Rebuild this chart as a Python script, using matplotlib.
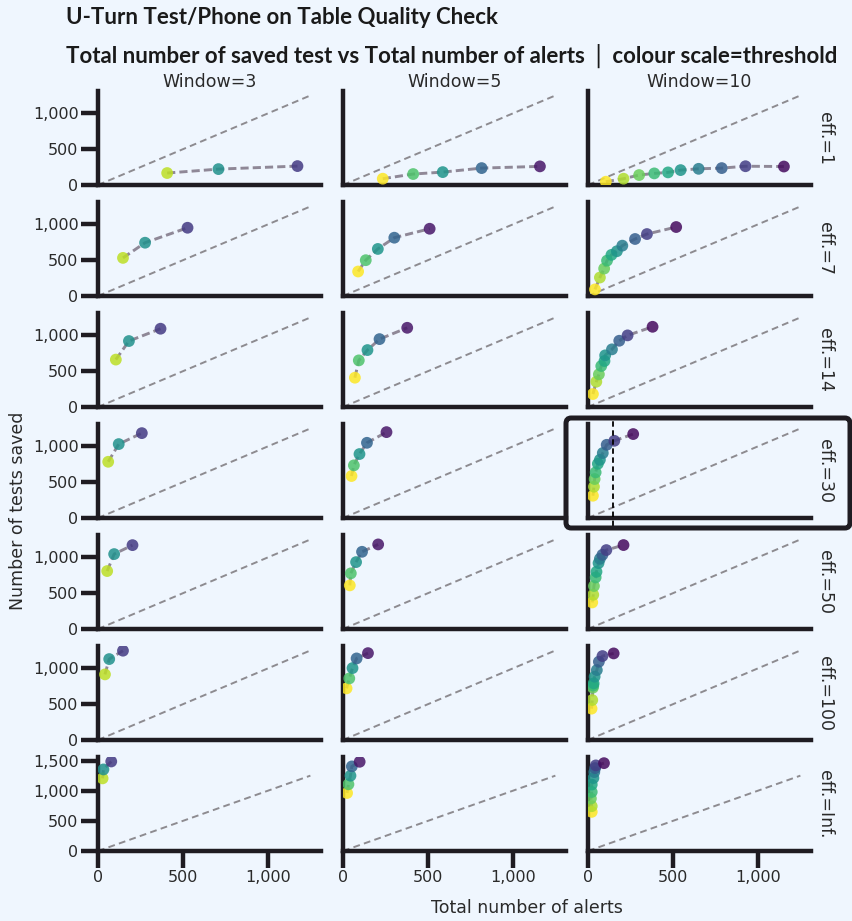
import matplotlib.pyplot as plt
from matplotlib.colors import to_rgba
from matplotlib.patches import FancyBboxPatch
from matplotlib.ticker import FuncFormatter, MultipleLocator


eff_labels = ["eff.=1", "eff.=7", "eff.=14", "eff.=30", "eff.=50", "eff.=100", "eff.=Inf."]
window_labels = ["Window=3", "Window=5", "Window=10"]

# one list per eff. row, points ordered from fewest alerts to most alerts
alerts_w3 = [
    [407, 709, 1174],
    [147, 277, 527],
    [105, 182, 368],
    [60, 122, 258],
    [54, 95, 203],
    [41, 66, 147],
    [27, 32, 78],
]
saved_w3 = [
    [167, 222, 264],
    [532, 744, 953],
    [662, 921, 1093],
    [785, 1032, 1185],
    [809, 1046, 1171],
    [916, 1130, 1247],
    [1205, 1353, 1485],
]

alerts_w5 = [
    [234, 413, 587, 816, 1159],
    [89, 134, 205, 302, 510],
    [70, 93, 144, 215, 378],
    [50, 64, 97, 141, 256],
    [40, 46, 77, 112, 207],
    [21, 37, 56, 80, 147],
    [24, 32, 44, 52, 98],
]
saved_w5 = [
    [88, 153, 180, 236, 260],
    [342, 500, 657, 814, 939],
    [409, 651, 795, 948, 1106],
    [586, 735, 893, 1050, 1199],
    [609, 777, 934, 1078, 1181],
    [721, 860, 1004, 1139, 1213],
    [962, 1106, 1249, 1403, 1480],
]

alerts_w10 = [
    [105, 209, 301, 390, 471, 545, 651, 787, 927, 1153],
    [41, 70, 95, 112, 138, 170, 202, 277, 347, 519],
    [29, 49, 64, 78, 97, 101, 141, 184, 233, 380],
    [29, 35, 39, 45, 58, 70, 87, 110, 155, 266],
    [25, 31, 35, 45, 50, 62, 70, 85, 108, 209],
    [21, 25, 29, 31, 33, 39, 52, 64, 85, 151],
    [22, 22, 17, 22, 22, 32, 37, 42, 46, 94],
]
saved_w10 = [
    [46, 88, 139, 162, 176, 208, 226, 236, 262, 258],
    [92, 258, 383, 494, 574, 625, 703, 796, 865, 963],
    [181, 353, 456, 572, 642, 721, 805, 925, 1000, 1120],
    [311, 437, 544, 637, 757, 813, 907, 1022, 1078, 1172],
    [371, 478, 600, 720, 799, 920, 980, 1036, 1102, 1172],
    [438, 558, 731, 760, 791, 884, 976, 1093, 1172, 1209],
    [649, 743, 870, 979, 1101, 1210, 1309, 1375, 1420, 1457],
]

# position of each threshold on the (viridis) colour scale
colour_w3 = [0.9, 0.5, 0.17]
colour_w5 = [1.0, 0.72, 0.52, 0.32, 0.06]
colour_w10 = [1.0, 0.88, 0.77, 0.68, 0.6, 0.52, 0.42, 0.3, 0.18, 0.03]

diag_end = 1250
highlight_row, highlight_col = 3, 2
highlight_alerts = 150

BG = "#eff6fe"
INK = "#1f1c22"
TEXT = "#2a2a2a"

plt.rcParams["font.family"] = ["DejaVu Sans"]

alerts = [alerts_w3, alerts_w5, alerts_w10]
saved = [saved_w3, saved_w5, saved_w10]
colours = [colour_w3, colour_w5, colour_w10]

W, H = 853, 921
fig = plt.figure(figsize=(W / 100, H / 100), dpi=100, facecolor=BG)

col_left = [98, 343, 588]
panel_w, panel_h = 223, 94
row_base = [185 + 111 * i for i in range(7)]

x_top = max(diag_end, max(max(max(r) for r in a) for a in alerts)) * 1.05
viridis = plt.get_cmap("viridis")
comma = FuncFormatter(lambda v, _: f"{v:,.0f}")

for r in range(7):
    row_max = max(max(max(saved[c][r]) for c in range(3)), diag_end)
    for c in range(3):
        ax = fig.add_axes([
            col_left[c] / W,
            1 - row_base[r] / H,
            panel_w / W,
            panel_h / H,
        ])
        ax.set_facecolor("none")
        x = alerts[c][r]
        y = saved[c][r]
        ax.plot([0, diag_end], [0, diag_end], color="#8d8b90", lw=1.4,
                ls=(0, (3.5, 2.2)), zorder=1)
        ax.plot(x, y, color="#8f8897", lw=2.1, ls=(0, (2.8, 1.4)), zorder=2)
        cols = [to_rgba(viridis(v), 0.85) for v in colours[c]]
        ax.scatter(x, y, s=72, c=cols, linewidths=0, zorder=3)

        ax.set_xlim(0, x_top)
        ax.set_ylim(0, row_max * 1.05)
        ax.xaxis.set_major_locator(MultipleLocator(500))
        ax.yaxis.set_major_locator(MultipleLocator(500))
        ax.xaxis.set_major_formatter(comma)
        ax.yaxis.set_major_formatter(comma)
        for side in ["top", "right"]:
            ax.spines[side].set_visible(False)
        for side in ["left", "bottom"]:
            ax.spines[side].set_linewidth(3.2)
            ax.spines[side].set_color(INK)
        ax.tick_params(length=12, width=3.2, color=INK, labelsize=11.5,
                       labelcolor=TEXT, pad=2)
        if c > 0:
            ax.tick_params(axis="y", length=0, labelleft=False)
        if r < 6:
            ax.tick_params(axis="x", length=0, labelbottom=False)

        if r == 0:
            ax.text(0.5, 1.0, window_labels[c], transform=ax.transAxes,
                    ha="center", va="bottom", fontsize=12.5, color=TEXT)
        if c == 2:
            ax.text(1.065, 0.5, eff_labels[r], transform=ax.transAxes,
                    ha="center", va="center", rotation=-90, fontsize=12.5,
                    color=TEXT)
        if (r, c) == (highlight_row, highlight_col):
            ax.axvline(highlight_alerts, ymin=-0.085, ymax=1.07, color="black",
                       lw=1.3, ls=(0, (3, 2)), clip_on=False, zorder=4)

# highlight box around the selected panel
box = FancyBboxPatch(
    (566 / W, 1 - 528 / H), (850 - 566) / W, (528 - 418) / H,
    boxstyle="round,pad=0,rounding_size=0.006",
    transform=fig.transFigure, fill=False, edgecolor=INK, lw=3.6,
)
fig.patches.append(box)

title_font = ["Lato", "DejaVu Sans"]
fig.text(66 / W, 1 - 18 / H, "U-Turn Test/Phone on Table Quality Check",
         ha="left", va="center", fontsize=16, fontweight="bold",
         family=title_font, color="#1a1a1a")
fig.text(66 / W, 1 - 56 / H,
         "Total number of saved test vs Total number of alerts \u2502 colour scale=threshold",
         ha="left", va="center", fontsize=16, fontweight="bold",
         family=title_font, color="#1a1a1a")

fig.text(18 / W, 1 - 511 / H, "Number of tests saved", rotation=90,
         ha="center", va="center", fontsize=12.5, color=TEXT)
fig.text(527 / W, 1 - 908 / H, "Total number of alerts",
         ha="center", va="center", fontsize=12.5, color=TEXT)

fig.savefig("out.png", dpi=100, facecolor=BG)
